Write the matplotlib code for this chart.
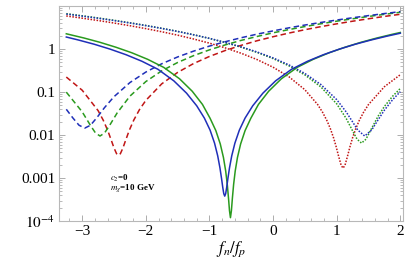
import matplotlib
matplotlib.use("Agg")
import matplotlib.pyplot as plt
from matplotlib.ticker import FixedLocator, FixedFormatter, MultipleLocator, LogLocator, NullFormatter

plt.rcParams['mathtext.fontset'] = 'stix'
plt.rcParams['font.family'] = ['Liberation Serif', 'DejaVu Serif']

# ---- data ----
solid_blue_x = [-3.25, -3.06, -2.81, -2.56, -2.31, -2.06, -1.81, -1.56, -1.36, -1.2, -1.08, -0.99, -0.92, -0.87,
                -0.835, -0.81, -0.79, -0.775, -0.76, -0.745, -0.73, -0.71, -0.685, -0.65, -0.6, -0.53, -0.44,
                -0.32, -0.16, 0.04, 0.29, 0.54, 0.79, 1.04, 1.29, 1.54, 1.79, 2.0]
solid_blue_y = [1.90, 1.62, 1.29, 0.992, 0.736, 0.518, 0.338, 0.182, 0.0941, 0.0478, 0.0248, 0.0130, 0.00649, 0.00327,
                0.00172, 0.000977, 0.000595, 0.000434, 0.00038, 0.000434, 0.000595, 0.000977, 0.00172, 0.00327, 0.00649,
                0.0130, 0.0248, 0.0478, 0.0941, 0.182, 0.338, 0.518, 0.736, 0.992, 1.29, 1.62, 1.99, 2.33]

solid_green_x = [-3.25, -2.97, -2.72, -2.47, -2.22, -1.97, -1.72, -1.47, -1.27, -1.11, -0.99, -0.9, -0.83, -0.78,
                 -0.745, -0.72, -0.7, -0.685, -0.67, -0.655, -0.64, -0.62, -0.595, -0.56, -0.51, -0.44, -0.35,
                 -0.23, -0.07, 0.13, 0.38, 0.63, 0.88, 1.13, 1.38, 1.63, 1.88, 2.0]
solid_green_y = [2.26, 1.80, 1.43, 1.10, 0.817, 0.575, 0.375, 0.203, 0.104, 0.0515, 0.0245, 0.0127, 0.00621, 0.00300,
                 0.00146, 0.000715, 0.000334, 0.000174, 0.00012, 0.000174, 0.000334, 0.000715, 0.00146, 0.00300,
                 0.00621, 0.0127, 0.0245, 0.0515, 0.104, 0.203, 0.375, 0.575, 0.817, 1.10, 1.43, 1.80, 2.21, 2.42]

dashed_blue_x = [-3.25, -3.15, -3.05, -2.96, -2.87, -2.77, -2.65, -2.5, -2.25, -2.0, -1.75, -1.5, -1.25, -1.0,
                 -0.75, -0.5, -0.25, 0.0, 0.25, 0.5, 0.75, 1.0, 1.25, 1.5, 1.75, 2.0]
dashed_blue_y = [0.0397, 0.0253, 0.0169, 0.0145, 0.0169, 0.0253, 0.0433, 0.0780, 0.166, 0.291, 0.454, 0.654, 0.892, 1.17,
                 1.48, 1.83, 2.22, 2.64, 3.11, 3.61, 4.14, 4.72, 5.33, 5.98, 6.67, 7.40]

dashed_green_x = [-3.25, -3.0, -2.87, -2.79, -2.72, -2.65, -2.57, -2.45, -2.25, -2.0, -1.75, -1.5, -1.25, -1.0,
                  -0.75, -0.5, -0.25, 0.0, 0.25, 0.5, 0.75, 1.0, 1.25, 1.5, 1.75, 2.0]
dashed_green_y = [0.0994, 0.0346, 0.0167, 0.0111, 0.0095, 0.0111, 0.0167, 0.0328, 0.0802, 0.175, 0.311, 0.486, 0.701, 0.956,
                  1.25, 1.59, 1.96, 2.38, 2.83, 3.33, 3.86, 4.44, 5.05, 5.71, 6.40, 7.14]

dashed_red_x = [-3.25, -3.0, -2.75, -2.67, -2.6, -2.54, -2.5, -2.46, -2.43, -2.40, -2.36, -2.32, -2.26, -2.19,
                -2.1, -2.0, -1.75, -1.5, -1.25, -1.0, -0.75, -0.5, -0.25, 0.0, 0.25, 0.5, 0.75, 1.0, 1.25, 1.5,
                1.75, 2.0]
dashed_red_y = [0.223, 0.110, 0.0369, 0.0222, 0.0129, 0.00736, 0.0050, 0.00369, 0.0034, 0.00369, 0.0050, 0.00736,
                0.0129, 0.0222, 0.0390, 0.0639, 0.155, 0.286, 0.459, 0.672, 0.926, 1.22, 1.56, 1.93, 2.35, 2.81,
                3.31, 3.85, 4.43, 5.05, 5.72, 6.42]

dotted_red_x = [-3.25, -3.0, -2.75, -2.5, -2.25, -2.0, -1.75, -1.5, -1.25, -1.0, -0.75, -0.5, -0.25, 0.0, 0.25,
                0.5, 0.7, 0.78, 0.85, 0.9, 0.95, 0.99, 1.03, 1.07, 1.1, 1.13, 1.17, 1.21, 1.25, 1.3, 1.35, 1.42,
                1.5, 1.75, 2.0]
dotted_red_y = [5.87, 5.21, 4.60, 4.02, 3.48, 2.98, 2.52, 2.10, 1.71, 1.37, 1.06, 0.795, 0.567, 0.377, 0.226,
                0.113, 0.0513, 0.0334, 0.0211, 0.0141, 0.00868, 0.00545, 0.00322, 0.00198, 0.0017, 0.00198, 0.00322,
                0.00545, 0.00868, 0.0141, 0.0211, 0.0334, 0.0513, 0.133, 0.253]

dotted_blue_x = [-3.25, -3.0, -2.75, -2.5, -2.25, -2.0, -1.75, -1.5, -1.25, -1.0, -0.75, -0.5, -0.25, 0.0, 0.25,
                 0.5, 0.75, 1.0, 1.15, 1.25, 1.33, 1.44, 1.55, 1.65, 1.75, 1.88, 2.0]
dotted_blue_y = [6.50, 5.83, 5.19, 4.59, 4.03, 3.50, 3.01, 2.56, 2.14, 1.77, 1.42, 1.12, 0.852, 0.621, 0.427,
                 0.270, 0.150, 0.0666, 0.0343, 0.0202, 0.0131, 0.0095, 0.0131, 0.0225, 0.0379, 0.0666, 0.102]

dotted_green_x = [-3.25, -3.0, -2.75, -2.5, -2.25, -2.0, -1.75, -1.5, -1.25, -1.0, -0.75, -0.5, -0.25, 0.0, 0.25,
                  0.5, 0.75, 1.0, 1.15, 1.25, 1.32, 1.39, 1.46, 1.55, 1.65, 1.75, 1.88, 2.0]
dotted_green_y = [6.62, 5.92, 5.27, 4.65, 4.07, 3.53, 3.03, 2.57, 2.15, 1.76, 1.41, 1.10, 0.832, 0.600, 0.406,
                  0.250, 0.132, 0.0532, 0.0242, 0.0125, 0.0080, 0.0065, 0.0080, 0.0144, 0.0273, 0.0463, 0.0802, 0.121]

x_ticks = [-3, -2, -1, 0, 1, 2]
x_tick_labels = ['\u22123', '\u22122', '\u22121', '0', '1', '2']
y_ticks = [1e-4, 1e-3, 1e-2, 1e-1, 1]
y_tick_labels = [r'$10^{-4}$', '0.001', '0.01', '0.1', '1']

BLUE = '#1f2fb8'
GREEN = '#2a9a1e'
RED = '#c01515'

fig = plt.figure(figsize=(4.09, 2.61), dpi=100)
ax = fig.add_axes([0.145, 0.153, 0.840, 0.824])

dash = (0, (3.6, 2.2))
dot = (0, (1.0, 1.0))
lw = 1.1

ax.plot(dashed_red_x, dashed_red_y, color=RED, lw=lw, linestyle=dash)
ax.plot(dashed_green_x, dashed_green_y, color=GREEN, lw=lw, linestyle=dash)
ax.plot(dashed_blue_x, dashed_blue_y, color=BLUE, lw=lw, linestyle=dash)
ax.plot(dotted_red_x, dotted_red_y, color=RED, lw=lw, linestyle=dot)
ax.plot(dotted_green_x, dotted_green_y, color=GREEN, lw=lw, linestyle=dot)
ax.plot(dotted_blue_x, dotted_blue_y, color=BLUE, lw=lw, linestyle=dot)
ax.plot(solid_green_x, solid_green_y, color=GREEN, lw=lw)
ax.plot(solid_blue_x, solid_blue_y, color=BLUE, lw=lw)

ax.set_yscale('log')
ax.set_xlim(-3.36, 2.04)
ax.set_ylim(1e-4, 10)

ax.xaxis.set_major_locator(FixedLocator(x_ticks))
ax.xaxis.set_major_formatter(FixedFormatter(x_tick_labels))
ax.xaxis.set_minor_locator(MultipleLocator(0.2))
ax.yaxis.set_major_locator(FixedLocator(y_ticks))
ax.yaxis.set_major_formatter(FixedFormatter(y_tick_labels))
ax.yaxis.set_minor_locator(LogLocator(base=10, subs=range(2, 10)))
ax.yaxis.set_minor_formatter(NullFormatter())

for s in ax.spines.values():
    s.set_color('#b8b8b8')
    s.set_linewidth(0.8)
ax.tick_params(which='both', direction='in', top=True, right=True, color='#a0a0a0',
               labelsize=11, pad=3)
ax.tick_params(which='major', length=4, width=0.6)
ax.tick_params(which='minor', length=2, width=0.5)

ax.set_xlabel(r'$f_n/f_p$', fontsize=12, labelpad=1)

ax.text(0.148, 0.20, r'$c_2$=0', transform=ax.transAxes,
        fontsize=6.5, fontweight='bold', va='center', ha='left')
ax.text(0.148, 0.153, r'$m_\chi$=10 GeV', transform=ax.transAxes,
        fontsize=6.5, fontweight='bold', va='center', ha='left')

fig.savefig('out.png', dpi=100)
